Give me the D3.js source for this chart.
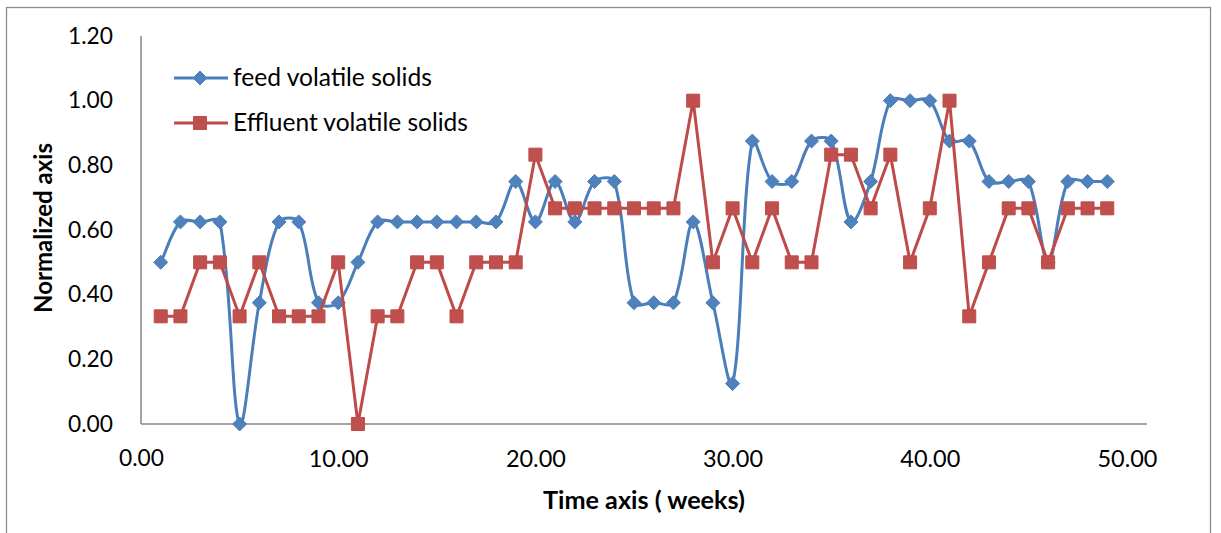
<!DOCTYPE html>
<html>
<head>
<meta charset="utf-8">
<script src="https://cdn.jsdelivr.net/npm/d3@7"></script>
<style>
  html, body { margin: 0; padding: 0; background: #ffffff; }
  svg { display: block; }
  text { font-family: Lato, "Open Sans", "Liberation Sans", sans-serif; fill: #000; }
</style>
</head>
<body>
<svg id="chart" width="1221" height="533"></svg>
<script>
// Week numbers of each sample
const weeks = [1, 2, 3, 4, 5, 6, 7, 8, 9, 10,
               11, 12, 13, 14, 15, 16, 17, 18, 19, 20,
               21, 22, 23, 24, 25, 26, 27, 28, 29, 30,
               31, 32, 33, 34, 35, 36, 37, 38, 39, 40,
               41, 42, 43, 44, 45, 46, 47, 48, 49];

// Normalized feed volatile solids
const feedVS = [0.500, 0.625, 0.625, 0.625, 0.000, 0.375, 0.625, 0.625, 0.375, 0.375,
                0.500, 0.625, 0.625, 0.625, 0.625, 0.625, 0.625, 0.625, 0.750, 0.625,
                0.750, 0.625, 0.750, 0.750, 0.375, 0.375, 0.375, 0.625, 0.375, 0.125,
                0.875, 0.750, 0.750, 0.875, 0.875, 0.625, 0.750, 1.000, 1.000, 1.000,
                0.875, 0.875, 0.750, 0.750, 0.750, 0.500, 0.750, 0.750, 0.750];

// Normalized effluent volatile solids
const effluentVS = [0.333, 0.333, 0.500, 0.500, 0.333, 0.500, 0.333, 0.333, 0.333, 0.500,
                    0.000, 0.333, 0.333, 0.500, 0.500, 0.333, 0.500, 0.500, 0.500, 0.833,
                    0.667, 0.667, 0.667, 0.667, 0.667, 0.667, 0.667, 1.000, 0.500, 0.667,
                    0.500, 0.667, 0.500, 0.500, 0.833, 0.833, 0.667, 0.833, 0.500, 0.667,
                    1.000, 0.333, 0.500, 0.667, 0.667, 0.500, 0.667, 0.667, 0.667];

const xTicks = [0, 10, 20, 30, 40, 50];
const yTicks = [0, 0.2, 0.4, 0.6, 0.8, 1.0, 1.2];
const seriesNames = ["feed volatile solids", "Effluent volatile solids"];
const xTitle = "Time axis ( weeks)";
const yTitle = "Normalized axis";

const svg = d3.select("#chart");
const axisColor = "#868686";
const blueLine = "#4A7EBB", blueFill = "#4F81BD";
const redLine = "#BE4B48", redFill = "#C0504D";

// Resize a text element so its rendered width equals target
function fitWidth(sel, target) {
  const node = sel.node();
  const base = parseFloat(sel.attr("font-size"));
  const w = node.getComputedTextLength();
  if (w > 0) sel.attr("font-size", (base * target / w).toFixed(2));
  return sel;
}

// Outer chart frame
svg.append("rect")
  .attr("x", 6.5).attr("y", 7.5)
  .attr("width", 1204).attr("height", 540)
  .attr("fill", "none").attr("stroke", "#8c8c8c").attr("stroke-width", 1.3);

const x = d3.scaleLinear().domain([0, 50]).range([141, 1127]);
const y = d3.scaleLinear().domain([0, 1.2]).range([424, 36]);

// Axes (no tick marks, labels only)
const gx = svg.append("g").attr("transform", "translate(0,424)")
  .call(d3.axisBottom(x).tickValues(xTicks).tickFormat(d3.format(".2f")).tickSize(0).tickPadding(26));
const gy = svg.append("g").attr("transform", "translate(141,0)")
  .call(d3.axisLeft(y).tickValues(yTicks).tickFormat(d3.format(".2f")).tickSize(0).tickPadding(28));
[gx, gy].forEach(g => {
  g.select(".domain").remove();
  g.selectAll("text").attr("font-size", 22).attr("font-family", null).attr("fill", "#000");
});
gy.selectAll("text").each(function () { fitWidth(d3.select(this), 45); });
gx.selectAll("text").each(function (d) { fitWidth(d3.select(this), d >= 10 ? 60 : 45); });

// Axis lines
svg.append("line").attr("x1", 141).attr("x2", 141).attr("y1", 36).attr("y2", 424)
  .attr("stroke", axisColor).attr("stroke-width", 1.5);
svg.append("line").attr("x1", 141).attr("x2", 1147).attr("y1", 424).attr("y2", 424)
  .attr("stroke", axisColor).attr("stroke-width", 1.5);

// Axis titles
fitWidth(svg.append("text").text(xTitle)
  .attr("x", 644).attr("y", 509).attr("text-anchor", "middle")
  .attr("font-size", 22).attr("font-weight", "bold"), 202);
fitWidth(svg.append("text").text(yTitle)
  .attr("transform", "translate(52,228) rotate(-90)").attr("text-anchor", "middle")
  .attr("font-size", 22).attr("font-weight", "bold"), 170);

// Marker shapes
function diamondPath(r) { return `M0,${-r}L${r},0L0,${r}L${-r},0Z`; }
function squarePath(h) { return `M${-h},${-h}H${h}V${h}H${-h}Z`; }

const feedPts = weeks.map((w, i) => [w, feedVS[i]]);
const effPts = weeks.map((w, i) => [w, effluentVS[i]]);

// Spreadsheet-style smoothing: cubic Bezier whose tangents are weighted by
// neighbouring chord lengths, so short flat segments do not overshoot much.
function smoothPath(points) {
  const p = points.map(d => [x(d[0]), y(d[1])]);
  const n = p.length;
  const dist = (a, b) => Math.hypot(b[0] - a[0], b[1] - a[1]);
  const path = d3.path();
  path.moveTo(p[0][0], p[0][1]);
  for (let i = 0; i < n - 1; i++) {
    const p0 = p[Math.max(i - 1, 0)], p1 = p[i], p2 = p[i + 1], p3 = p[Math.min(i + 2, n - 1)];
    const d01 = dist(p0, p1), d12 = dist(p1, p2), d23 = dist(p2, p3);
    const f1 = d01 + d12 > 0 ? d12 / (d01 + d12) / 3 : 0;
    const f2 = d12 + d23 > 0 ? d12 / (d12 + d23) / 3 : 0;
    const c1 = [p1[0] + (p2[0] - p0[0]) * f1, p1[1] + (p2[1] - p0[1]) * f1];
    const c2 = [p2[0] - (p3[0] - p1[0]) * f2, p2[1] - (p3[1] - p1[1]) * f2];
    path.bezierCurveTo(c1[0], c1[1], c2[0], c2[1], p2[0], p2[1]);
  }
  return path.toString();
}
const straight = d3.line().x(d => x(d[0])).y(d => y(d[1]));

// Feed series: smoothed line with diamond markers
svg.append("path").attr("d", smoothPath(feedPts))
  .attr("fill", "none").attr("stroke", blueLine).attr("stroke-width", 3).attr("stroke-linejoin", "round");
svg.append("g").selectAll("path").data(feedPts).join("path")
  .attr("transform", d => `translate(${x(d[0])},${y(d[1])})`)
  .attr("d", diamondPath(7)).attr("fill", blueFill).attr("stroke", blueLine).attr("stroke-width", 1);

// Effluent series: straight line with square markers
svg.append("path").attr("d", straight(effPts))
  .attr("fill", "none").attr("stroke", redLine).attr("stroke-width", 3).attr("stroke-linejoin", "round");
svg.append("g").selectAll("path").data(effPts).join("path")
  .attr("transform", d => `translate(${x(d[0])},${y(d[1])})`)
  .attr("d", squarePath(6.5)).attr("fill", redFill).attr("stroke", redLine).attr("stroke-width", 1);

// Legend
const legend = [
  { name: seriesNames[0], line: blueLine, fill: blueFill, shape: diamondPath(7), cy: 78, w: 199 },
  { name: seriesNames[1], line: redLine, fill: redFill, shape: squarePath(6.5), cy: 123, w: 235 }
];
legend.forEach(l => {
  const g = svg.append("g");
  g.append("line").attr("x1", 174).attr("x2", 228).attr("y1", l.cy).attr("y2", l.cy)
    .attr("stroke", l.line).attr("stroke-width", 3);
  g.append("path").attr("transform", `translate(200,${l.cy})`).attr("d", l.shape)
    .attr("fill", l.fill).attr("stroke", l.line).attr("stroke-width", 1);
  fitWidth(g.append("text").text(l.name).attr("x", 233).attr("y", l.cy + 8)
    .attr("font-size", 22), l.w);
});
</script>
</body>
</html>
